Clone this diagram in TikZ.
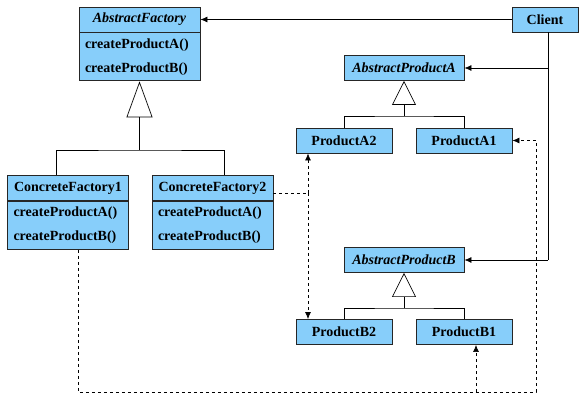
\documentclass[tikz,border=0pt]{standalone}
\usepackage{fontspec}
\setmainfont{Liberation Serif}
\usetikzlibrary{arrows.meta,calc}
\definecolor{boxblue}{RGB}{135,206,250}
\begin{document}
\begin{tikzpicture}[x=1pt,y=-1pt,
  font=\fontsize{14}{17}\selectfont\bfseries,
  box/.style={draw=black!85,line width=0.9pt,fill=boxblue,inner sep=0pt,minimum height=25pt},
  ops/.style={box,minimum height=48pt,text width=109pt,align=left,inner xsep=6pt,anchor=north},
  link/.style={line width=0.7pt},
  arr/.style={link,-{Latex[length=7pt,width=6pt]}},
  dep/.style={link,dash pattern=on 3pt off 3pt},
  deparr/.style={dep,-{Latex[length=7pt,width=6pt]}},
  inherit/.style n args={2}{link,-{Triangle[open,length=#1,width=#2]}}]
\useasboundingbox (0,0) rectangle (579,393);

% factory classes
\node[box,minimum width=121pt] (af) at (139.5,19.5) {\textit{AbstractFactory}};
\node[ops] (afops) at (af.south) {createProductA()\\[7pt]createProductB()};
\node[box,minimum width=121pt] (cf1) at (68,188) {ConcreteFactory1};
\node[ops] (cf1ops) at (cf1.south) {createProductA()\\[7pt]createProductB()};
\node[box,minimum width=121pt] (cf2) at (212.5,188) {ConcreteFactory2};
\node[ops] (cf2ops) at (cf2.south) {createProductA()\\[7pt]createProductB()};

% client
\node[box,minimum width=66pt] (client) at (545,19.5) {Client};

% product classes
\node[box,minimum width=120pt] (apA) at (404,68) {\textit{AbstractProductA}};
\node[box,minimum width=96pt] (pa2) at (344,140.5) {ProductA2};
\node[box,minimum width=96pt] (pa1) at (464,140.5) {ProductA1};
\node[box,minimum width=120pt] (apB) at (404,260) {\textit{AbstractProductB}};
\node[box,minimum width=96pt] (pb2) at (344,332) {ProductB2};
\node[box,minimum width=96pt] (pb1) at (464,332) {ProductB1};

% junction and bend points
\coordinate (jf) at (139.5,150);
\coordinate (ja) at (404,116);
\coordinate (jb) at (404,308);
\coordinate (cs) at (548,260);
\coordinate (d2) at (308,193);
\coordinate (dl) at (78,392);
\coordinate (dr) at (536,392);
\coordinate (db) at (476,392);

% generalisation
\draw[link] ($(cf1.north)+(-12,0)$) |- (jf) -| ($(cf2.north)+(12,0)$);
\draw[inherit={36pt}{26pt}] (jf) -- (afops.south);
\draw[link] (pa2.north) |- (ja) -| (pa1.north);
\draw[inherit={24pt}{24pt}] (ja) -- (apA.south);
\draw[link] (pb2.north) |- (jb) -| (pb1.north);
\draw[inherit={24pt}{24pt}] (jb) -- (apB.south);

% client associations
\draw[arr] (client.west) -- (af.east);
\draw[link] (client.south -| cs) -- (cs);
\draw[arr] (cs |- apA.east) -- (apA.east);
\draw[arr] (cs) -- (apB.east);

% creation dependencies
\draw[dep] (cf2.east |- d2) -- (d2);
\draw[deparr] (d2) -- (d2 |- pa2.south);
\draw[deparr] (d2) -- (d2 |- pb2.north);
\draw[deparr] (cf1ops.south -| dl) -- (dl) -- (dr) -- (dr |- pa1.east) -- (pa1.east);
\draw[deparr] (db) -- (db |- pb1.south);
\end{tikzpicture}
\end{document}
